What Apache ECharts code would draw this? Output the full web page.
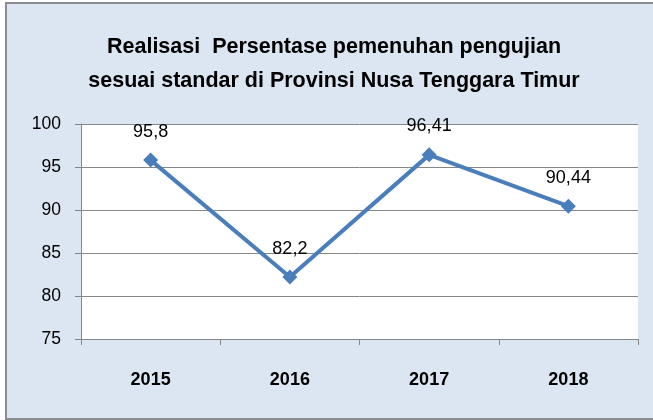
<!DOCTYPE html>
<html>
<head>
<meta charset="utf-8">
<script src="https://cdn.jsdelivr.net/npm/echarts@6/dist/echarts.min.js"></script>
<style>
html,body{margin:0;padding:0;background:#fff;}
#chart{width:653px;height:420px;}
</style>
</head>
<body>
<div id="chart"></div>
<script>
var titleLines = ['Realisasi  Persentase pemenuhan pengujian', 'sesuai standar di Provinsi Nusa Tenggara Timur'];
var categories = ['2015', '2016', '2017', '2018'];
var values = [95.8, 82.2, 96.41, 90.44];
var valueLabels = ['95,8', '82,2', '96,41', '90,44'];
var yTicks = [75, 80, 85, 90, 95, 100];

var font = 'Liberation Sans';
var chart = echarts.init(document.getElementById('chart'));
chart.setOption({
  animation: false,
  backgroundColor: '#ffffff',
  graphic: [{
    type: 'rect', z: -10, silent: true,
    shape: {x: 6, y: 3, width: 680, height: 416},
    style: {fill: '#DCE6F2', stroke: '#8C8C8C', lineWidth: 2}
  }],
  title: {
    text: titleLines.join('\n'),
    left: 329, top: 25, textAlign: 'center',
    textStyle: {fontFamily: font, fontWeight: 'bold', fontSize: 21.5, lineHeight: 34, color: '#000'}
  },
  grid: {left: 81, top: 124, width: 557, height: 215, backgroundColor: '#ffffff', show: true, borderWidth: 0},
  xAxis: {
    type: 'category', data: categories, boundaryGap: true,
    axisLine: {lineStyle: {color: '#868686', width: 1}},
    axisTick: {show: true, length: 6, lineStyle: {color: '#868686'}},
    axisLabel: {margin: 32, fontFamily: font, fontWeight: 'bold', fontSize: 18, color: '#000'}
  },
  yAxis: {
    type: 'value', min: yTicks[0], max: yTicks[yTicks.length - 1], interval: 5,
    axisLine: {show: true, lineStyle: {color: '#868686', width: 1}},
    axisTick: {show: true, length: 6, lineStyle: {color: '#868686'}},
    splitLine: {lineStyle: {color: '#868686', width: 1}},
    axisLabel: {margin: 20, fontFamily: font, fontSize: 17.5, color: '#000'}
  },
  series: [{
    type: 'line', data: values,
    symbol: 'diamond', symbolSize: 15,
    lineStyle: {color: '#4A7EBB', width: 4},
    itemStyle: {color: '#4A7EBB'},
    label: {
      show: true, position: 'top', distance: 12,
      fontFamily: font, fontSize: 18, color: '#000',
      formatter: function (p) { return valueLabels[p.dataIndex]; }
    }
  }]
});
</script>
</body>
</html>
